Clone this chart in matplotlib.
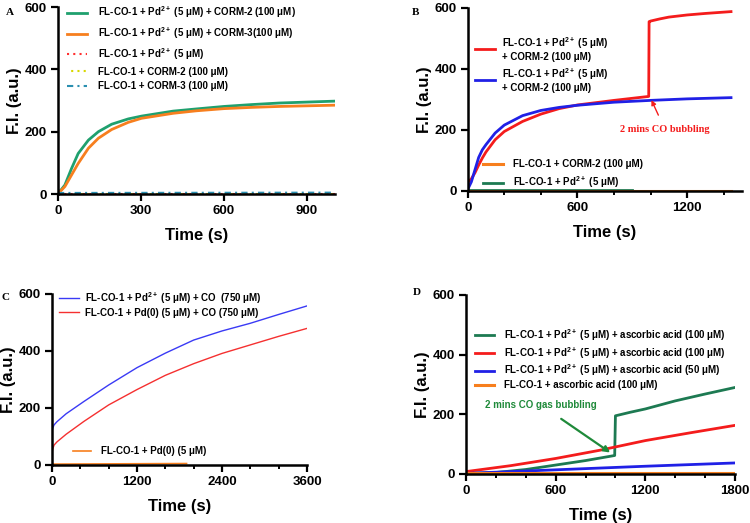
import matplotlib
matplotlib.use('Agg')
import matplotlib.pyplot as plt
from matplotlib.ticker import MultipleLocator

plt.rcParams['font.family'] = ['Liberation Sans', 'DejaVu Sans']
plt.rcParams['font.weight'] = 'bold'
plt.rcParams['mathtext.fontset'] = 'custom'
plt.rcParams['mathtext.bf'] = 'Liberation Sans:bold'
plt.rcParams['mathtext.rm'] = 'Liberation Sans:bold'
plt.rcParams['mathtext.default'] = 'bf'

PD = r'Pd$^{2+}$'

# ---- panel A ----
tA = [0, 10, 25, 49, 73, 110, 146, 194, 254, 302, 416, 500, 600, 700, 800, 900, 1000]
a_corm2 = [5, 12, 29, 82, 130, 173, 200, 224, 241, 250, 266, 273, 281, 287, 292, 295, 298]
a_corm3 = [5, 10, 24, 61, 98, 147, 179, 207, 230, 243, 259, 267, 274, 278, 281, 283, 285]
tA_flat = [0, 1000]
a_pd = [0.5, 0.5]
a_c2 = [0.5, 0.5]
a_c3 = [3.5, 4.5]
labels_A = ['FL-CO-1 + ' + PD + ' (5 μM) + CORM-2 (100 μM)',
            'FL-CO-1 + ' + PD + ' (5 μM) + CORM-3(100 μM)',
            'FL-CO-1 + ' + PD + ' (5 μM)',
            'FL-CO-1 + CORM-2 (100 μM)',
            'FL-CO-1 + CORM-3 (100 μM)']

# ---- panel B ----
tB_blue = [0, 20, 40, 60, 80, 100, 150, 200, 300, 400, 500, 600, 800, 1000, 1200, 1440]
b_blue = [5, 30, 70, 110, 135, 152, 190, 216, 247, 264, 274, 281, 291, 297, 302, 306]
tB_red = [0, 20, 40, 60, 80, 100, 150, 200, 300, 400, 500, 600, 800, 990, 992, 1000, 1050, 1100, 1200, 1300, 1440]
b_red = [28, 40, 60, 85, 108, 128, 168, 195, 228, 252, 270, 282, 297, 310, 555, 557, 564, 570, 577, 582, 588]
tB_green = [0, 900]
b_green = [3, 3]
tB_orange = [0, 1440]
b_orange = [1, 1]

# ---- panel C ----
tC = [0, 10, 30, 70, 200, 450, 800, 1200, 1600, 2000, 2400, 2800, 3200, 3600]
c_blue = [116, 128, 140, 151, 179, 222, 280, 341, 392, 438, 470, 497, 528, 558]
c_red = [40, 55, 69, 80, 107, 152, 210, 264, 314, 355, 391, 421, 451, 479]
tC_orange = [0, 1900]
c_orange = [2, 4]

# ---- panel D ----
tD_green = [0, 200, 400, 600, 800, 995, 1000, 1100, 1200, 1400, 1600, 1800]
d_green = [2, 5, 15, 30, 45, 62, 195, 207, 218, 245, 268, 290]
tD_red = [0, 300, 600, 900, 1200, 1500, 1800]
d_red = [8, 28, 52, 80, 112, 138, 163]
tD_blue = [0, 600, 1200, 1800]
d_blue = [2, 14, 26, 37]
tD_orange = [0, 1800]
d_orange = [2, 2]
labels_D = ['FL-CO-1 + ' + PD + ' (5 μM) + ascorbic acid (100 μM)',
            'FL-CO-1 + ' + PD + ' (5 μM) + ascorbic acid (100 μM)',
            'FL-CO-1 + ' + PD + ' (5 μM) + ascorbic acid (50 μM)',
            'FL-CO-1 + ascorbic acid (100 μM)']

GREEN = '#1fa06e'
DGREEN = '#1d7a52'
ORANGE = '#f77f1e'
RED = '#f41c1c'
BLUE = '#2020e6'


def style(ax, xmax, xmajor, xminor=None):
    ax.set_xlim(0, xmax)
    ax.set_ylim(0, 600)
    ax.spines['top'].set_visible(False)
    ax.spines['right'].set_visible(False)
    ax.spines['left'].set_linewidth(1.8)
    ax.spines['bottom'].set_linewidth(1.8)
    ax.xaxis.set_major_locator(MultipleLocator(xmajor))
    if xminor:
        ax.xaxis.set_minor_locator(MultipleLocator(xminor))
    ax.yaxis.set_major_locator(MultipleLocator(200))
    ax.tick_params(which='major', length=5, width=1.6, labelsize=9.5, direction='out', pad=3)
    ax.tick_params(which='minor', length=3, width=1.4, direction='out')
    for lab in ax.get_xticklabels() + ax.get_yticklabels():
        lab.set_fontweight('bold')
    ax.set_xlabel('Time (s)', fontsize=12, fontweight='bold', labelpad=8)
    ax.set_ylabel('F.I. (a.u.)', fontsize=12, fontweight='bold', labelpad=2)


LEG = {'weight': 'bold', 'size': 7}

fig = plt.figure(figsize=(7.5, 5.23), dpi=100)

# A
ax = fig.add_axes([0.0773, 0.629, 0.369, 0.3576])
ax.plot(tA, a_corm2, color=GREEN, lw=2, label=labels_A[0])
ax.plot(tA, a_corm3, color=ORANGE, lw=2, label=labels_A[1])
ax.plot(tA_flat, a_pd, color='#ff3030', lw=1.5, ls=(0, (1, 2)), label=labels_A[2])
ax.plot(tA_flat, a_c2, color='#d8d800', lw=1.5, ls=(1, (1, 2)), label=labels_A[3])
ax.plot(tA_flat, a_c3, color='#2a8fb0', lw=1.5, ls=(0, (3, 2, 1, 2)), label=labels_A[4])
style(ax, 1000, 300)
ax.legend(loc='upper left', bbox_to_anchor=(0.0, 1.06), frameon=False,
          handlelength=2.1, labelspacing=0.5, handletextpad=1.1, prop=LEG)
fig.text(0.008, 0.985, 'A', family='Liberation Serif', fontweight='bold', fontsize=8, va='top')

# B
ax = fig.add_axes([0.6236, 0.6348, 0.3657, 0.35])
ax.plot(tB_green, b_green, color=DGREEN, lw=2)
l_red, = ax.plot(tB_red, b_red, color=RED, lw=2)
l_blue, = ax.plot(tB_blue, b_blue, color=BLUE, lw=2)
l_orange, = ax.plot(tB_orange, b_orange, color=ORANGE, lw=2.2)
l_green, = ax.plot([], [], color=DGREEN, lw=2)
style(ax, 1500, 600, 200)
leg1 = ax.legend([l_red, l_blue],
                 ['FL-CO-1 + ' + PD + ' (5 μM)\n+ CORM-2 (100 μM)',
                  'FL-CO-1 + ' + PD + ' (5 μM)\n+ CORM-2 (100 μM)'],
                 loc='upper left', bbox_to_anchor=(-0.005, 0.9), frameon=False,
                 handlelength=2.0, handletextpad=0.8, labelspacing=0.35, prop=LEG)
ax.add_artist(leg1)
ax.legend([l_orange, l_green], ['FL-CO-1 + CORM-2 (100 μM)', 'FL-CO-1 + ' + PD + ' (5 μM)'],
          loc='lower left', bbox_to_anchor=(0.025, -0.045), frameon=False,
          handlelength=2.0, handletextpad=1.1, labelspacing=0.55, prop=LEG)
ax.annotate('2 mins CO bubbling', xy=(1005, 298), xytext=(1080, 200),
            color=RED, fontsize=7.5, fontweight='bold', family='Liberation Serif',
            ha='center', va='center',
            arrowprops=dict(arrowstyle='-|>', color=RED, lw=1.0, mutation_scale=7,
                            shrinkA=6, shrinkB=0))
fig.text(0.549, 0.985, 'B', family='Liberation Serif', fontweight='bold', fontsize=8, va='top')

# C
ax = fig.add_axes([0.0693, 0.1115, 0.34, 0.3264])
l1, = ax.plot(tC, c_blue, color='#3a3af5', lw=1)
l2, = ax.plot(tC, c_red, color='#f53030', lw=1)
l3, = ax.plot(tC_orange, c_orange, color=ORANGE, lw=1.2)
style(ax, 3600, 1200, 400)
leg1 = ax.legend([l1, l2], ['FL-CO-1 + ' + PD + ' (5 μM) + CO  (750 μM)',
                            'FL-CO-1 + Pd(0) (5 μM) + CO (750 μM)'],
                 loc='upper left', bbox_to_anchor=(-0.005, 1.075), frameon=False,
                 handlelength=2.0, handletextpad=0.6, labelspacing=0.2, prop=LEG)
ax.add_artist(leg1)
ax.legend([l3], ['FL-CO-1 + Pd(0) (5 μM)'], loc='lower left', bbox_to_anchor=(0.05, 0.0),
          frameon=False, handlelength=1.8, handletextpad=1.0, prop=LEG)
fig.text(0.002, 0.44, 'C', family='Liberation Serif', fontweight='bold', fontsize=8, va='top')

# D
ax = fig.add_axes([0.6213, 0.0937, 0.3587, 0.3423])
ax.plot(tD_green, d_green, color=DGREEN, lw=2, label=labels_D[0])
ax.plot(tD_red, d_red, color=RED, lw=2, label=labels_D[1])
ax.plot(tD_blue, d_blue, color=BLUE, lw=2, label=labels_D[2])
ax.plot(tD_orange, d_orange, color=ORANGE, lw=2.2, label=labels_D[3])
style(ax, 1800, 600, 200)
ax.legend(loc='upper left', bbox_to_anchor=(0.0, 0.87), frameon=False,
          handlelength=2.0, handletextpad=1.0, labelspacing=0.2, prop=LEG)
ax.annotate('2 mins CO gas bubbling', xy=(965, 72), xytext=(500, 232),
            color='#1f8a3a', fontsize=7, fontweight='bold', ha='center', va='center',
            arrowprops=dict(arrowstyle='-|>', color='#1f8a3a', lw=1.6, mutation_scale=9,
                            shrinkA=8, shrinkB=0))
fig.text(0.551, 0.45, 'D', family='Liberation Serif', fontweight='bold', fontsize=8, va='top')

fig.savefig('out.png', dpi=100)
